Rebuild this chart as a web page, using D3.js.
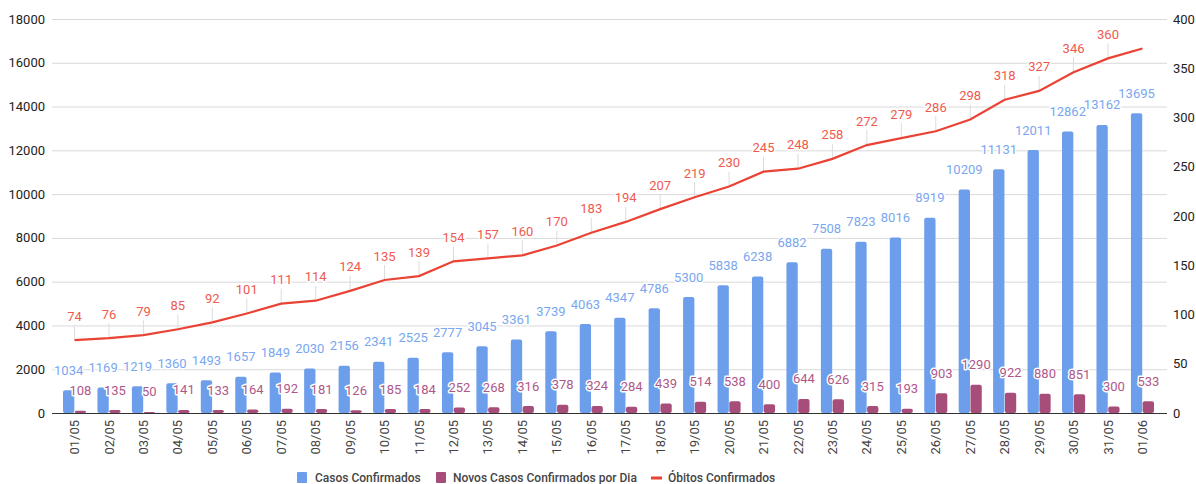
<!DOCTYPE html>
<html>
<head>
<meta charset="utf-8">
<script src="https://cdn.jsdelivr.net/npm/d3@7"></script>
<style>
  body { margin: 0; background: #fff; }
  svg { font-family: Roboto, "Noto Sans", sans-serif; }
  .halo { paint-order: stroke; stroke: #fff; stroke-width: 3px; stroke-linejoin: round; }
</style>
</head>
<body>
<svg id="chart" width="1196" height="484"></svg>
<script>
// data
var dias = ["01/05","02/05","03/05","04/05","05/05","06/05","07/05","08/05","09/05","10/05",
  "11/05","12/05","13/05","14/05","15/05","16/05","17/05","18/05","19/05","20/05",
  "21/05","22/05","23/05","24/05","25/05","26/05","27/05","28/05","29/05","30/05","31/05","01/06"];
var casos = [1034,1169,1219,1360,1493,1657,1849,2030,2156,2341,2525,2777,3045,3361,3739,4063,
  4347,4786,5300,5838,6238,6882,7508,7823,8016,8919,10209,11131,12011,12862,13162,13695];
var novos = [108,135,50,141,133,164,192,181,126,185,184,252,268,316,378,324,
  284,439,514,538,400,644,626,315,193,903,1290,922,880,851,300,533];
var obitos = [74,76,79,85,92,101,111,114,124,135,139,154,157,160,170,183,
  194,207,219,230,245,248,258,272,279,286,298,318,327,346,360,370];
var leftTicks = [0,2000,4000,6000,8000,10000,12000,14000,16000,18000];
var rightTicks = [0,50,100,150,200,250,300,350,400];

var cAzul = "#6d9eeb", cRoxo = "#a64d79", cVerm = "#ea4335";

var svg = d3.select("#chart");
var plotTop = 19, plotBottom = 413, gridL = 52, gridR = 1167;

var x = d3.scaleBand().domain(dias).range([63, 1154]).paddingInner(0.33).paddingOuter(0);
var xs = d3.scaleBand().domain(["casos","novos"]).range([0, x.bandwidth()]).paddingInner(0.04);
var yL = d3.scaleLinear().domain([0, 18000]).range([plotBottom, plotTop]);
var yR = d3.scaleLinear().domain([0, 400]).range([plotBottom, plotTop]);

// grid lines (left axis)
svg.append("g").selectAll("line").data(leftTicks.filter(d => d > 0)).join("line")
  .attr("x1", gridL).attr("x2", gridR)
  .attr("y1", d => yL(d) + 0.5).attr("y2", d => yL(d) + 0.5)
  .attr("stroke", "#d9d9d9").attr("stroke-width", 1);

// left axis labels
svg.append("g").selectAll("text").data(leftTicks).join("text")
  .attr("x", 45).attr("y", d => yL(d)).attr("dy", "0.35em")
  .attr("text-anchor", "end").attr("font-size", 13).attr("fill", "#222")
  .text(d => d);

// right axis labels
svg.append("g").selectAll("text").data(rightTicks).join("text")
  .attr("x", 1173).attr("y", d => yR(d)).attr("dy", "0.35em")
  .attr("text-anchor", "start").attr("font-size", 13).attr("fill", "#222")
  .text(d => d);

// bars
var g = svg.append("g");
g.selectAll("rect.casos").data(casos).join("rect").attr("class", "casos")
  .attr("x", (d, i) => x(dias[i]) + xs("casos")).attr("width", xs.bandwidth())
  .attr("y", d => yL(d)).attr("height", d => plotBottom - yL(d))
  .attr("rx", 2).attr("fill", cAzul);
g.selectAll("rect.novos").data(novos).join("rect").attr("class", "novos")
  .attr("x", (d, i) => x(dias[i]) + xs("novos")).attr("width", xs.bandwidth())
  .attr("y", d => yL(d)).attr("height", d => plotBottom - yL(d))
  .attr("rx", 2).attr("fill", cRoxo);

// baseline
svg.append("line").attr("x1", gridL).attr("x2", gridR).attr("y1", plotBottom + 0.5).attr("y2", plotBottom + 0.5)
  .attr("stroke", "#333").attr("stroke-width", 1);

// x labels, rotated
svg.append("g").selectAll("text").data(dias).join("text")
  .attr("transform", d => "translate(" + (x(d) + x.bandwidth() / 2) + "," + (plotBottom + 7) + ") rotate(-90)")
  .attr("dy", "0.35em").attr("text-anchor", "end")
  .attr("font-size", 13).attr("fill", "#444")
  .text(d => d);

// line
var cx = (d, i) => x(dias[i]) + x.bandwidth() / 2;
var linha = d3.line().x(cx).y(d => yR(d));

// stems for death annotations
svg.append("g").selectAll("line").data(obitos.slice(0, -1)).join("line")
  .attr("x1", cx).attr("x2", cx)
  .attr("y1", d => yR(d) - 15).attr("y2", d => yR(d))
  .attr("stroke", "#dcdcdc").attr("stroke-width", 1);

svg.append("path").datum(obitos).attr("d", linha)
  .attr("fill", "none").attr("stroke", cVerm).attr("stroke-width", 2.2);

// annotations
svg.append("g").selectAll("text").data(casos).join("text").attr("class", "halo")
  .attr("x", (d, i) => x(dias[i]) + xs("casos") + xs.bandwidth() / 2)
  .attr("y", d => yL(d) - 20).attr("dy", "0.35em")
  .attr("text-anchor", "middle").attr("font-size", 13).attr("fill", "#7aa7ef")
  .text(d => d);
svg.append("g").selectAll("text").data(novos).join("text").attr("class", "halo")
  .attr("x", (d, i) => x(dias[i]) + xs("novos") + xs.bandwidth() / 2)
  .attr("y", d => yL(d) - 20).attr("dy", "0.35em")
  .attr("text-anchor", "middle").attr("font-size", 13).attr("fill", "#b0578a")
  .text(d => d);
svg.append("g").selectAll("text").data(obitos.slice(0, -1)).join("text").attr("class", "halo")
  .attr("x", cx)
  .attr("y", d => yR(d) - 24).attr("dy", "0.35em")
  .attr("text-anchor", "middle").attr("font-size", 13).attr("fill", "#ef5a4e")
  .text(d => d);

// legend
var leg = svg.append("g").attr("font-size", 12).attr("font-weight", 500).attr("fill", "#444");
leg.append("rect").attr("x", 297).attr("y", 472).attr("width", 10).attr("height", 11).attr("rx", 1).attr("fill", cAzul);
leg.append("text").attr("x", 315).attr("y", 478).attr("dy", "0.35em").text("Casos Confirmados");
leg.append("rect").attr("x", 436).attr("y", 472).attr("width", 10).attr("height", 11).attr("rx", 1).attr("fill", cRoxo);
leg.append("text").attr("x", 453).attr("y", 478).attr("dy", "0.35em").text("Novos Casos Confirmados por Dia");
leg.append("rect").attr("x", 651).attr("y", 476.5).attr("width", 11).attr("height", 3).attr("fill", cVerm);
leg.append("text").attr("x", 668).attr("y", 478).attr("dy", "0.35em").text("Óbitos Confirmados");
</script>
</body>
</html>
